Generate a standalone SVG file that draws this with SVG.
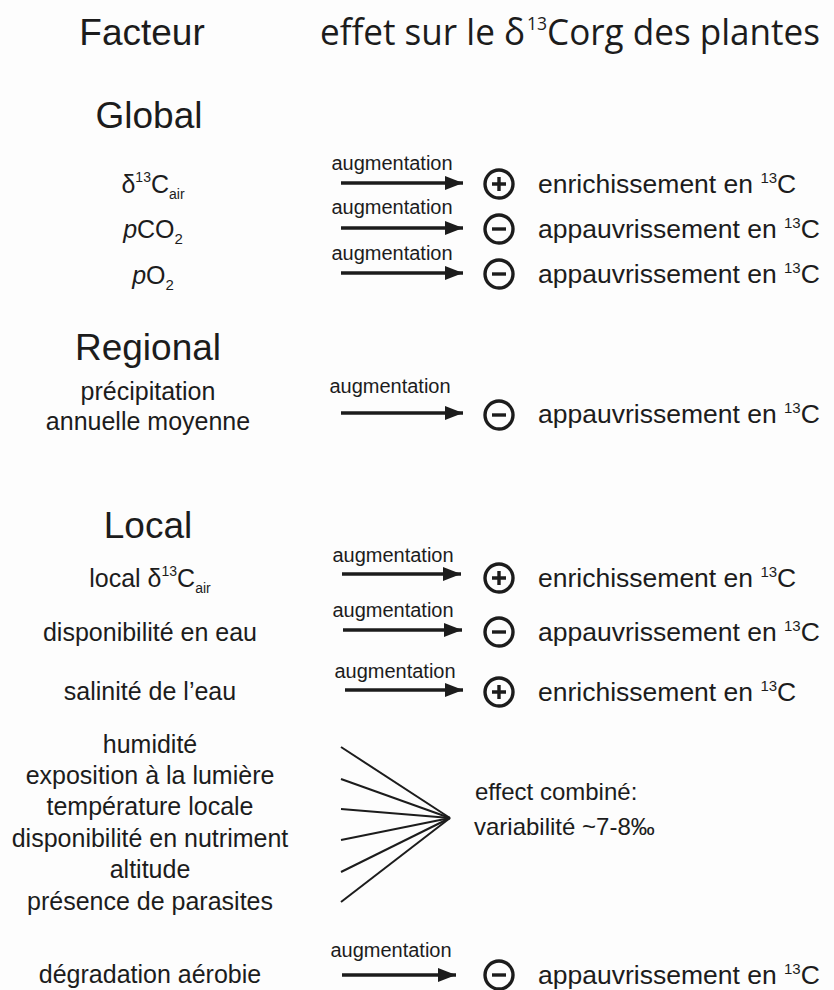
<svg xmlns="http://www.w3.org/2000/svg" width="834" height="990" viewBox="0 0 834 990">
<defs>
<style>
text{font-family:"Liberation Sans",Arial,sans-serif;fill:#1c1c1c}
.hd{font-size:37px;text-anchor:middle}
.hd2{font-family:"Open Sans","Liberation Sans",sans-serif;font-size:36px}
.lf{font-size:25px;text-anchor:middle}
.aug{font-size:20px;text-anchor:middle}
.rt{font-size:26.5px}
.cb{font-size:24px}
.arr{stroke:#1c1c1c;stroke-width:3.5;fill:none;marker-end:url(#ah)}
.fan{stroke:#1c1c1c;stroke-width:2;fill:none}
.sym{stroke:#1c1c1c;stroke-width:3.4;fill:none}
</style>
<marker id="ah" markerUnits="userSpaceOnUse" markerWidth="20" markerHeight="16" refX="18" refY="7" orient="auto">
<path d="M0,0 L18,7 L0,14 Z" fill="#1c1c1c"/>
</marker>
<g id="plus"><circle cx="0" cy="0" r="14" class="sym"/><path d="M-7,0 H7 M0,-7 V7" class="sym"/></g>
<g id="minus"><circle cx="0" cy="0" r="14" class="sym"/><path d="M-7,0 H7" class="sym"/></g>
</defs>
<rect width="834" height="990" fill="#fdfdfd"/>

<g id="header">
<text class="hd" x="142" y="45">Facteur</text>
<text class="hd2" x="320" y="45" textLength="500" lengthAdjust="spacingAndGlyphs">effet sur le δ<tspan font-size="18" dx="2" dy="-15">13</tspan><tspan dy="15">Corg des plantes</tspan></text>
</g>

<g id="global">
<text class="hd" x="149" y="128">Global</text>
<g id="g-d13c">
<text class="lf" x="153" y="193">δ<tspan font-size="14" dy="-11">13</tspan><tspan dy="11">C</tspan><tspan font-size="14" dy="6">air</tspan></text>
<text class="aug" x="392" y="170">augmentation</text>
<use href="#plus" x="499" y="184"/>
<text class="rt" x="538" y="193">enrichissement en <tspan font-size="15" dy="-10">13</tspan><tspan dy="10">C</tspan></text>
</g>
<g id="g-pco2">
<text class="lf" x="153" y="238"><tspan font-style="italic">p</tspan>CO<tspan font-size="15" dy="6">2</tspan></text>
<text class="aug" x="392" y="214">augmentation</text>
<use href="#minus" x="499" y="229"/>
<text class="rt" x="538" y="238">appauvrissement en <tspan font-size="15" dy="-10">13</tspan><tspan dy="10">C</tspan></text>
</g>
<g id="g-po2">
<text class="lf" x="153" y="284"><tspan font-style="italic">p</tspan>O<tspan font-size="15" dy="6">2</tspan></text>
<text class="aug" x="392" y="260">augmentation</text>
<use href="#minus" x="499" y="274"/>
<text class="rt" x="538" y="283">appauvrissement en <tspan font-size="15" dy="-10">13</tspan><tspan dy="10">C</tspan></text>
</g>
</g>

<g id="regional">
<text class="hd" x="148" y="360">Regional</text>
<g id="r-precip">
<text class="lf" x="148" y="400">précipitation</text>
<text class="lf" x="148" y="430">annuelle moyenne</text>
<text class="aug" x="390" y="393">augmentation</text>
<use href="#minus" x="499" y="415"/>
<text class="rt" x="538" y="423">appauvrissement en <tspan font-size="15" dy="-10">13</tspan><tspan dy="10">C</tspan></text>
</g>
</g>

<g id="local">
<text class="hd" x="148" y="538">Local</text>
<g id="l-d13c">
<text class="lf" x="150" y="587">local δ<tspan font-size="14" dy="-11">13</tspan><tspan dy="11">C</tspan><tspan font-size="14" dy="6">air</tspan></text>
<text class="aug" x="393" y="562">augmentation</text>
<use href="#plus" x="499" y="578"/>
<text class="rt" x="538" y="587">enrichissement en <tspan font-size="15" dy="-10">13</tspan><tspan dy="10">C</tspan></text>
</g>
<g id="l-eau">
<text class="lf" x="150" y="641">disponibilité en eau</text>
<text class="aug" x="393" y="617">augmentation</text>
<use href="#minus" x="499" y="632"/>
<text class="rt" x="538" y="641">appauvrissement en <tspan font-size="15" dy="-10">13</tspan><tspan dy="10">C</tspan></text>
</g>
<g id="l-sal">
<text class="lf" x="150" y="700">salinité de l’eau</text>
<text class="aug" x="395" y="678">augmentation</text>
<use href="#plus" x="499" y="692"/>
<text class="rt" x="538" y="701">enrichissement en <tspan font-size="15" dy="-10">13</tspan><tspan dy="10">C</tspan></text>
</g>
<g id="l-combined">
<text class="lf" x="150" y="753">humidité</text>
<text class="lf" x="150" y="784">exposition à la lumière</text>
<text class="lf" x="150" y="815">température locale</text>
<text class="lf" x="150" y="847">disponibilité en nutriment</text>
<text class="lf" x="150" y="878">altitude</text>
<text class="lf" x="150" y="910">présence de parasites</text>
<text class="cb" x="475" y="800">effect combiné:</text>
<text class="cb" x="474" y="835">variabilité ~7-8‰</text>
</g>
<g id="l-degr">
<text class="lf" x="150" y="983">dégradation aérobie</text>
<text class="aug" x="391" y="957">augmentation</text>
<use href="#minus" x="499" y="975"/>
<text class="rt" x="538" y="984">appauvrissement en <tspan font-size="15" dy="-10">13</tspan><tspan dy="10">C</tspan></text>
</g>
</g>

<g id="connectors">
<line class="arr" x1="341" y1="183" x2="463" y2="183"/>
<line class="arr" x1="341" y1="228" x2="463" y2="228"/>
<line class="arr" x1="341" y1="273" x2="463" y2="273"/>
<line class="arr" x1="341" y1="413" x2="463" y2="413"/>
<line class="arr" x1="342" y1="574" x2="461" y2="574"/>
<line class="arr" x1="343" y1="630" x2="462" y2="630"/>
<line class="arr" x1="345" y1="690" x2="463" y2="690"/>
<line class="arr" x1="342" y1="975" x2="456" y2="975"/>
<line class="fan" x1="341" y1="747" x2="450" y2="818"/>
<line class="fan" x1="341" y1="779" x2="450" y2="818"/>
<line class="fan" x1="341" y1="809" x2="450" y2="818"/>
<line class="fan" x1="341" y1="840" x2="450" y2="818"/>
<line class="fan" x1="341" y1="872" x2="450" y2="818"/>
<line class="fan" x1="341" y1="902" x2="450" y2="818"/>
</g>
</svg>
